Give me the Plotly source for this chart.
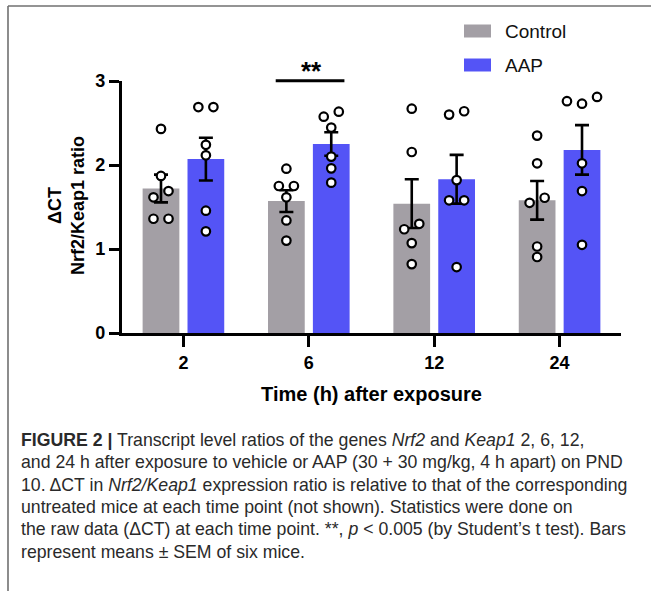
import plotly.graph_objects as go

# ---------------- data ----------------
time_labels = ["2", "6", "12", "24"]
control_mean = [1.72, 1.57, 1.54, 1.58]
aap_mean = [2.07, 2.25, 1.83, 2.18]
control_sem = [0.165, 0.13, 0.29, 0.23]
aap_sem = [0.255, 0.14, 0.29, 0.295]

control_points = [
    [2.43, 1.87, 1.69, 1.615, 1.36, 1.36],
    [1.956, 1.75, 1.75, 1.615, 1.34, 1.10],
    [2.67, 2.155, 1.235, 1.30, 1.07, 0.82],
    [2.35, 2.02, 1.55, 1.61, 1.03, 0.905],
]
aap_points = [
    [2.69, 2.69, 2.24, 2.115, 1.456, 1.21],
    [2.575, 2.635, 2.445, 2.10, 1.96, 1.79],
    [2.60, 2.64, 1.82, 1.58, 1.58, 0.785],
    [2.76, 2.73, 2.81, 2.02, 1.69, 1.05],
]
# horizontal jitter of the scatter points (category units)
control_jitter = [
    [0, 0, 0.06, -0.06, -0.06, 0.06],
    [0, -0.06, 0.06, 0, 0, 0],
    [0, 0, -0.06, 0.06, 0, 0],
    [0, 0, -0.06, 0.06, 0, 0],
]
aap_jitter = [
    [-0.06, 0.06, 0, 0, 0, 0],
    [-0.06, 0.06, 0, 0, 0, 0],
    [-0.06, 0.06, 0, -0.06, 0.06, 0],
    [-0.12, 0, 0.12, 0, 0, 0],
]
series_names = ["Control", "AAP"]

caption_lines = [
    "<b>FIGURE 2 |</b> Transcript level ratios of the genes <i>Nrf2</i> and <i>Keap1</i> 2, 6, 12,",
    "and 24 h after exposure to vehicle or AAP (30 + 30 mg/kg, 4 h apart) on PND",
    "10. ΔCT in <i>Nrf2/Keap1</i> expression ratio is relative to that of the corresponding",
    "untreated mice at each time point (not shown). Statistics were done on",
    "the raw data (ΔCT) at each time point. **, <i>p</i> &lt; 0.005 (by Student’s t test). Bars",
    "represent means ± SEM of six mice.",
]

# ---------------- styling / geometry ----------------
W, H = 651, 591
L, R, T, B = 122, 30, 81, 258
XR = [-0.49, 3.49]
GRAY = "#A39FA5"
BLUE = "#5454F6"
FONT = "Liberation Sans, Arial, sans-serif"
OFF = 0.179
BW = 0.293


def px(x):
    return (x - L) / (W - L - R)


def py(y):
    return (H - B - y) / (H - T - B)


def xdom(v):
    return (v - XR[0]) / (XR[1] - XR[0])


idx = list(range(len(time_labels)))
fig = go.Figure()

for name, means, sems, color, sgn in [
    (series_names[0], control_mean, control_sem, GRAY, -1),
    (series_names[1], aap_mean, aap_sem, BLUE, 1),
]:
    fig.add_trace(go.Bar(
        x=[i + sgn * OFF for i in idx], y=means, width=BW, name=name,
        marker=dict(color=color, line=dict(width=0)),
        error_y=dict(type="data", array=sems, visible=True, color="black",
                     thickness=2.6, width=7),
        showlegend=False,
    ))

for pts, jit, sgn in [(control_points, control_jitter, -1), (aap_points, aap_jitter, 1)]:
    xs, ys = [], []
    for i, (vals, js) in enumerate(zip(pts, jit)):
        for v, j in zip(vals, js):
            xs.append(i + sgn * OFF + j)
            ys.append(v)
    fig.add_trace(go.Scatter(
        x=xs, y=ys, mode="markers", showlegend=False, hoverinfo="y",
        marker=dict(size=8.5, color="white", line=dict(color="black", width=2.2)),
    ))

shapes = []
annotations = []

# frame lines
shapes.append(dict(type="line", xref="paper", yref="paper", x0=px(8), x1=px(W + 5),
                   y0=py(6), y1=py(6), line=dict(color="#707070", width=1.6)))
shapes.append(dict(type="line", xref="paper", yref="paper", x0=px(8), x1=px(8),
                   y0=py(6), y1=py(H + 5), line=dict(color="#707070", width=1.6)))

# significance bar
shapes.append(dict(type="line", xref="x domain", yref="paper",
                   x0=xdom(1 - OFF - 0.085), x1=xdom(1 + OFF + 0.105),
                   y0=py(80.7), y1=py(80.7), line=dict(color="black", width=3)))
annotations.append(dict(text="<b>**</b>", xref="x domain", yref="paper",
                        x=xdom(1 + 0.02), y=py(71), showarrow=False,
                        font=dict(family=FONT, size=26, color="black"),
                        xanchor="center", yanchor="middle"))

# legend
for k, (name, color, yc) in enumerate([(series_names[0], GRAY, 31), (series_names[1], BLUE, 65)]):
    shapes.append(dict(type="rect", xref="paper", yref="paper",
                       x0=px(464), x1=px(491), y0=py(yc - 6.5), y1=py(yc + 6.5),
                       fillcolor=color, line=dict(width=0)))
    annotations.append(dict(text=name, xref="paper", yref="paper", x=px(503), y=py(yc),
                            showarrow=False, xanchor="left", yanchor="middle",
                            font=dict(family=FONT, size=19, color="#111111")))

# y-axis title
annotations.append(dict(text="<b>ΔCT</b><br><b>Nrf2/Keap1 ratio</b>", xref="paper", yref="paper",
                        x=px(66), y=py(206), textangle=-90, showarrow=False,
                        xanchor="center", yanchor="middle",
                        font=dict(family=FONT, size=18, color="black")))

# caption
for k, line in enumerate(caption_lines):
    annotations.append(dict(text=line, xref="paper", yref="paper", x=px(19),
                            y=py(440 + k * 22.3), showarrow=False,
                            xanchor="left", yanchor="middle", align="left",
                            font=dict(family=FONT, size=17.7, color="#2A2A2A")))

fig.update_layout(
    width=W, height=H,
    margin=dict(l=L, r=R, t=T, b=B, pad=0),
    paper_bgcolor="white", plot_bgcolor="white",
    barmode="overlay",
    shapes=shapes, annotations=annotations,
    font=dict(family=FONT, color="black"),
    xaxis=dict(range=XR, tickvals=idx, ticktext=[f"<b>{t}</b>" for t in time_labels],
               showline=True, linecolor="black", linewidth=3.2, ticks="outside",
               ticklen=11, tickwidth=3.2, tickcolor="black", showgrid=False, zeroline=False,
               tickfont=dict(family=FONT, size=18, color="black"),
               title=dict(text="<b>Time (h) after exposure</b>", standoff=16,
                          font=dict(family=FONT, size=20, color="black"))),
    yaxis=dict(range=[0, 3], tickvals=[0, 1, 2, 3], ticktext=["<b>0</b>", "<b>1</b>", "<b>2</b>", "<b>3</b>"],
               showline=True, linecolor="black", linewidth=3.2, ticks="outside",
               ticklen=10, tickwidth=3.2, tickcolor="black", showgrid=False, zeroline=False,
               tickfont=dict(family=FONT, size=18, color="black")),
)

fig.write_html("out.html", config={"displayModeBar": False},
               post_script="document.body.style.margin='0';document.body.style.overflow='hidden';")
